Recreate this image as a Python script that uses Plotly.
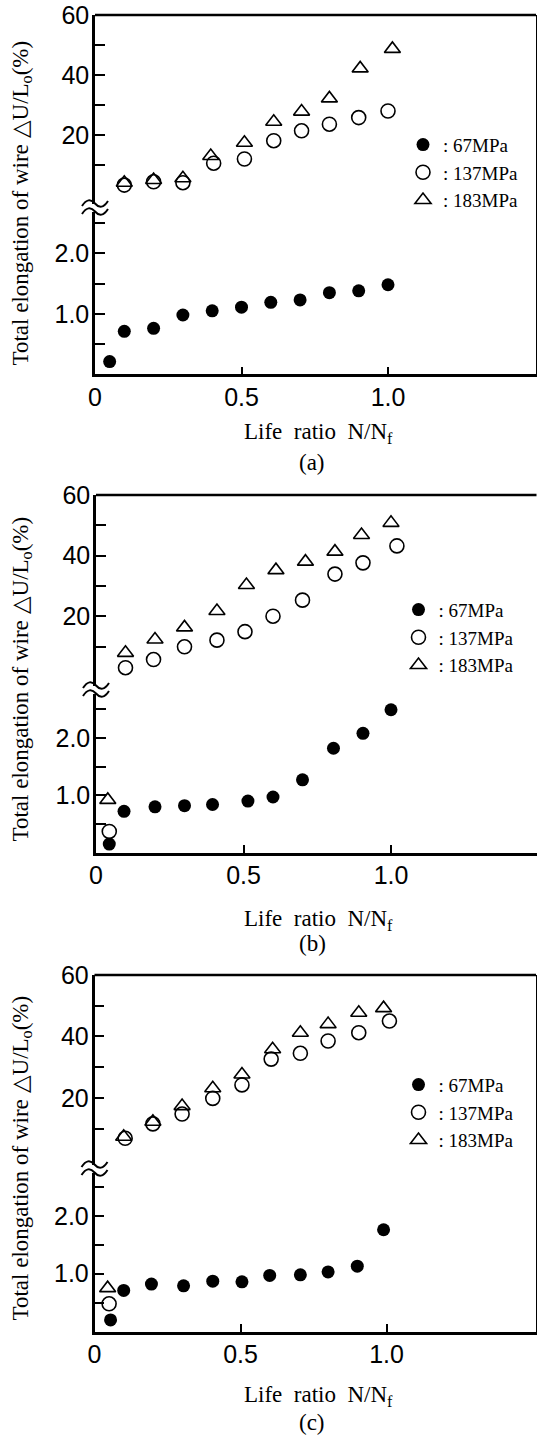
import plotly.graph_objects as go

W, H = 537, 1437

# ---------------- data ----------------
# panel (a)
x_67_a = [0.05, 0.1, 0.2, 0.3, 0.4, 0.5, 0.6, 0.7, 0.8, 0.9, 1.0]
y_67_a = [0.21, 0.71, 0.76, 0.98, 1.05, 1.11, 1.19, 1.23, 1.35, 1.38, 1.48]
x_137_a = [0.1, 0.2, 0.3, 0.405, 0.51, 0.61, 0.705, 0.8, 0.9, 1.0]
y_137_a = [3.3, 4.4, 4.1, 10.6, 12.0, 18.1, 21.4, 23.6, 25.8, 28.0]
x_183_a = [0.1, 0.2, 0.3, 0.395, 0.51, 0.61, 0.705, 0.8, 0.905, 1.015]
y_183_a = [4.1, 5.0, 5.6, 13.0, 17.4, 24.4, 27.8, 32.2, 42.2, 48.7]

# panel (b)
x_67_b = [0.045, 0.095, 0.2, 0.3, 0.395, 0.515, 0.6, 0.7, 0.805, 0.905, 1.0]
y_67_b = [0.15, 0.72, 0.80, 0.82, 0.84, 0.90, 0.97, 1.27, 1.82, 2.08, 2.49]
x_137_b = [0.045, 0.1, 0.195, 0.3, 0.41, 0.505, 0.6, 0.7, 0.81, 0.905, 1.02]
y_137_b = [0.37, 3.0, 5.7, 9.9, 12.1, 14.9, 20.0, 25.3, 33.9, 37.6, 43.2]
x_183_b = [0.04, 0.1, 0.2, 0.3, 0.41, 0.51, 0.61, 0.71, 0.81, 0.9, 1.0]
y_183_b = [0.92, 7.9, 12.3, 16.3, 21.7, 30.3, 35.2, 38.0, 41.3, 46.8, 50.8]

# panel (c)
x_67_c = [0.055, 0.1, 0.195, 0.305, 0.405, 0.505, 0.6, 0.705, 0.8, 0.9, 0.99]
y_67_c = [0.20, 0.71, 0.82, 0.79, 0.87, 0.86, 0.97, 0.98, 1.03, 1.13, 1.76]
x_137_c = [0.05, 0.105, 0.2, 0.3, 0.405, 0.505, 0.605, 0.705, 0.8, 0.905, 1.01]
y_137_c = [0.48, 6.8, 11.5, 14.7, 19.8, 24.2, 32.6, 34.5, 38.5, 41.2, 45.0]
x_183_c = [0.045, 0.1, 0.2, 0.3, 0.405, 0.505, 0.61, 0.705, 0.8, 0.905, 0.99]
y_183_c = [0.75, 7.3, 12.2, 17.3, 23.1, 27.6, 35.8, 41.2, 44.0, 47.7, 49.2]

series_names = [": 67MPa", ": 137MPa", ": 183MPa"]
panel_labels = ["(a)", "(b)", "(c)"]
x_tickvals = [0, 0.5, 1.0]
x_ticktext = ["0", "0.5", "1.0"]
low_tickvals = [0.5, 1.0, 1.5, 2.0, 2.5]
low_ticktext = ["", "1.0", "", "2.0", ""]
up_tickvals = [10, 20, 30, 40, 50, 60]
up_ticktext = ["", "20", "", "40", "", "60"]
y_title = "Total elongation of wire △U/L<sub>o</sub>(%)"
x_title = "Life  ratio  N/N<sub>f</sub>"

panels_data = [
    (x_67_a, y_67_a, x_137_a, y_137_a, x_183_a, y_183_a),
    (x_67_b, y_67_b, x_137_b, y_137_b, x_183_b, y_183_b),
    (x_67_c, y_67_c, x_137_c, y_137_c, x_183_c, y_183_c),
]

# ---------------- layout geometry (pixels) ----------------
geo = [
    dict(L=95.0, R=536.0, xu=293.0, T=15.0, B=208.0, Bot=374.3, pu=3.0, pl=60.5,
         ytc=203, xtc=433, capc=463, legx=423, legy=146.7),
    dict(L=96.0, R=536.5, xu=295.0, T=495.0, B=690.0, Bot=852.7, pu=3.03, pl=57.4,
         ytc=679, xtc=920, capc=943, legx=418.5, legy=611.7),
    dict(L=94.5, R=536.0, xu=292.0, T=975.0, B=1169.0, Bot=1331.5, pu=3.07, pl=57.8,
         ytc=1158, xtc=1396, capc=1422, legx=418.5, legy=1086.7),
]

TICKFONT = dict(family="Liberation Sans", size=25, color="black")
SERIF = "Liberation Serif"

styles = [
    dict(symbol="circle", size=13, color="black", line=dict(width=0)),
    dict(symbol="circle-open", size=14, color="black", line=dict(width=1.6, color="black")),
    dict(symbol="triangle-up-open", size=14, color="black", line=dict(width=1.6, color="black")),
]

fig = go.Figure()
layout = dict(width=W, height=H, margin=dict(l=0, r=0, t=0, b=0, pad=0, autoexpand=False),
              paper_bgcolor="white", plot_bgcolor="white", showlegend=True)
shapes = []
annotations = []


def fx(px):
    return px / W


def fy(py):
    return 1 - py / H


for i, (g, data) in enumerate(zip(geo, panels_data)):
    xa = "x" if i == 0 else f"x{i+1}"
    ylo_n = 2 * i + 1
    yup_n = 2 * i + 2
    ylo = "y" if ylo_n == 1 else f"y{ylo_n}"
    yup = f"y{yup_n}"
    leg = "legend" if i == 0 else f"legend{i+1}"

    xmax = (g["R"] - g["L"]) / g["xu"]
    up_lo = 60 - (g["B"] - g["T"]) / g["pu"]
    low_hi = (g["Bot"] - g["B"]) / g["pl"]

    xkey = "xaxis" if i == 0 else f"xaxis{i+1}"
    layout[xkey] = dict(domain=[fx(g["L"]), fx(g["R"])], range=[0, xmax], anchor=ylo,
                        showline=True, linewidth=2.5, linecolor="black", mirror=False,
                        ticks="inside", ticklen=8, tickwidth=2, tickcolor="black",
                        tickvals=x_tickvals, ticktext=x_ticktext, tickfont=TICKFONT,
                        showgrid=False, zeroline=False, ticklabelstandoff=-1, automargin=False)
    lokey = "yaxis" if ylo_n == 1 else f"yaxis{ylo_n}"
    layout[lokey] = dict(domain=[fy(g["Bot"]), fy(g["B"])], range=[0, low_hi], anchor=xa,
                         showline=True, linewidth=2.5, linecolor="black", mirror=True,
                         ticks="inside", ticklen=10, tickwidth=2, tickcolor="black",
                         tickvals=low_tickvals, ticktext=low_ticktext, tickfont=TICKFONT,
                         showgrid=False, zeroline=False, ticklabelstandoff=-2, automargin=False)
    layout[f"yaxis{yup_n}"] = dict(domain=[fy(g["B"]), fy(g["T"])], range=[up_lo, 60], anchor=xa,
                                   showline=True, linewidth=2.5, linecolor="black", mirror=True,
                                   ticks="inside", ticklen=10, tickwidth=2, tickcolor="black",
                                   tickvals=up_tickvals, ticktext=up_ticktext, tickfont=TICKFONT,
                                   showgrid=False, zeroline=False, ticklabelstandoff=-2,
                                   automargin=False)

    # top border
    shapes.append(dict(type="line", xref=f"{xa} domain", yref=f"{yup} domain",
                       x0=0, x1=1, y0=1, y1=1, line=dict(color="black", width=2.5)))
    # axis break mark
    L, B = g["L"], g["B"]
    shapes.append(dict(type="rect", xref="paper", yref="paper",
                       x0=fx(L - 4), x1=fx(L + 4), y0=fy(B + 4), y1=fy(B - 4),
                       fillcolor="white", line=dict(width=0), layer="above"))
    for dy in (-4, 4):
        yc = B + dy
        p = (f"M {fx(L-13):.5f},{fy(yc+2):.5f} "
             f"Q {fx(L-6.5):.5f},{fy(yc-8):.5f} {fx(L):.5f},{fy(yc-0.5):.5f} "
             f"T {fx(L+13):.5f},{fy(yc-3):.5f}")
        shapes.append(dict(type="path", xref="paper", yref="paper", path=p,
                           line=dict(color="black", width=2), layer="above"))

    # traces
    xs = [data[0], data[2], data[4]]
    ys = [data[1], data[3], data[5]]
    for k in range(3):
        xl = [x for x, y in zip(xs[k], ys[k]) if y < low_hi]
        yl = [y for x, y in zip(xs[k], ys[k]) if y < low_hi]
        xu = [x for x, y in zip(xs[k], ys[k]) if y >= low_hi]
        yu = [y for x, y in zip(xs[k], ys[k]) if y >= low_hi]
        st = styles[k]
        mk = dict(symbol=st["symbol"], size=st["size"], color=st["color"], line=st["line"])
        shown = False
        if xu:
            fig.add_trace(go.Scatter(x=xu, y=yu, xaxis=xa, yaxis=yup, mode="markers",
                                     marker=mk, name=series_names[k], legend=leg,
                                     showlegend=True, cliponaxis=False))
            shown = True
        if xl:
            fig.add_trace(go.Scatter(x=xl, y=yl, xaxis=xa, yaxis=ylo, mode="markers",
                                     marker=mk, name=series_names[k], legend=leg,
                                     showlegend=not shown, cliponaxis=False))

    layout[leg] = dict(x=fx(g["legx"] - 20), y=fy(g["legy"] - 21), xanchor="left", yanchor="top",
                       bgcolor="rgba(0,0,0,0)", borderwidth=0, traceorder="normal",
                       font=dict(family=SERIF, size=19, color="black"), itemsizing="trace")

    # titles
    annotations.append(dict(text=y_title, xref="paper", yref="paper", x=fx(21.5), y=fy(g["ytc"]),
                            textangle=-90, showarrow=False, xanchor="center", yanchor="middle",
                            font=dict(family=SERIF, size=23, color="black")))
    annotations.append(dict(text=x_title, xref="paper", yref="paper", x=fx(318), y=fy(g["xtc"]),
                            showarrow=False, xanchor="center", yanchor="middle",
                            font=dict(family=SERIF, size=23, color="black")))
    annotations.append(dict(text=panel_labels[i], xref="paper", yref="paper", x=fx(312), y=fy(g["capc"]),
                            showarrow=False, xanchor="center", yanchor="middle",
                            font=dict(family=SERIF, size=23, color="black")))

layout["shapes"] = shapes
layout["annotations"] = annotations
fig.update_layout(**layout)
fig.write_html("out.html", config={"displayModeBar": False},
               post_script="document.body.style.margin='0';")
